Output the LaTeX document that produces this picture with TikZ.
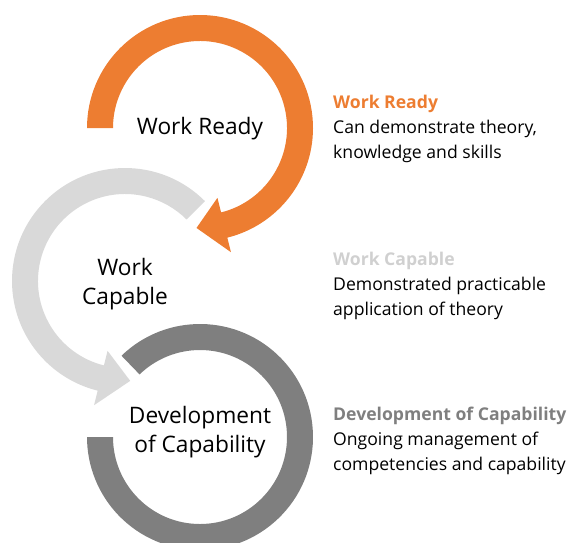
\documentclass[tikz,border=0pt]{standalone}
\usepackage{fontspec}
\setmainfont{Open Sans}
\usetikzlibrary{calc}
\definecolor{naranja}{HTML}{ED7D31}
\definecolor{grisclaro}{HTML}{D9D9D9}
\definecolor{grismedio}{HTML}{D0D0D0}
\definecolor{grisoscuro}{HTML}{7F7F7F}
\begin{document}
\begin{tikzpicture}[x=1pt,y=1pt,
        etiqueta/.style={align=center,font=\fontsize{22.7}{28.5}\selectfont},
        texto/.style={align=left,anchor=north west,inner sep=0pt,font=\fontsize{17.6}{24.8}\selectfont}]
        \clip (0,0) rectangle (572,-542);

        % Centros de los anillos
        \coordinate (ready) at (200,-128);
        \coordinate (capable) at (125,-281);
        \coordinate (desarrollo) at (200,-437);

        % Anillo gris oscuro
        \fill[grisoscuro] ($(desarrollo)+(134:113)$) arc[start angle=134, end angle=-180, radius=113]
            -- ($(desarrollo)+(180:87)$) arc[start angle=-180, end angle=134, radius=87] -- cycle;

        % Flecha gris clara
        \fill[grisclaro] ($(capable)+(45:113)$) arc[start angle=45, end angle=256, radius=113]
            -- ($(capable)+(256:128)$) -- ($(capable)+(273:100)$) -- ($(capable)+(256:72)$)
            -- ($(capable)+(256:87)$) arc[start angle=256, end angle=45, radius=87] -- cycle;

        % Flecha naranja
        \fill[naranja] ($(ready)+(180:113)$) arc[start angle=180, end angle=-76, radius=113]
            -- ($(ready)+(-76:128)$) -- ($(ready)+(-92:100)$) -- ($(ready)+(-76:72)$)
            -- ($(ready)+(-76:87)$) arc[start angle=-76, end angle=180, radius=87] -- cycle;

        % Etiquetas de los anillos
        \node[etiqueta] (lready) at (200,-129) {Work Ready};
        \node[etiqueta] (lcapable) at (125,-284) {Work\\Capable};
        \node[etiqueta] (ldesarrollo) at (200,-432) {Development\\of Capability};

        % Descripciones
        \node[texto] (dready) at (333,-95) {\textbf{\color{naranja}Work Ready}\\Can demonstrate theory,\\knowledge and skills};
        \node[texto] (dcapable) at (333,-252) {\textbf{\color{grismedio}Work Capable}\\Demonstrated practicable\\application of theory};
        \node[texto] (ddesarrollo) at (333,-407) {\textbf{\color{grisoscuro}Development of Capability}\\Ongoing management of\\competencies and capability};
\end{tikzpicture}
\end{document}
